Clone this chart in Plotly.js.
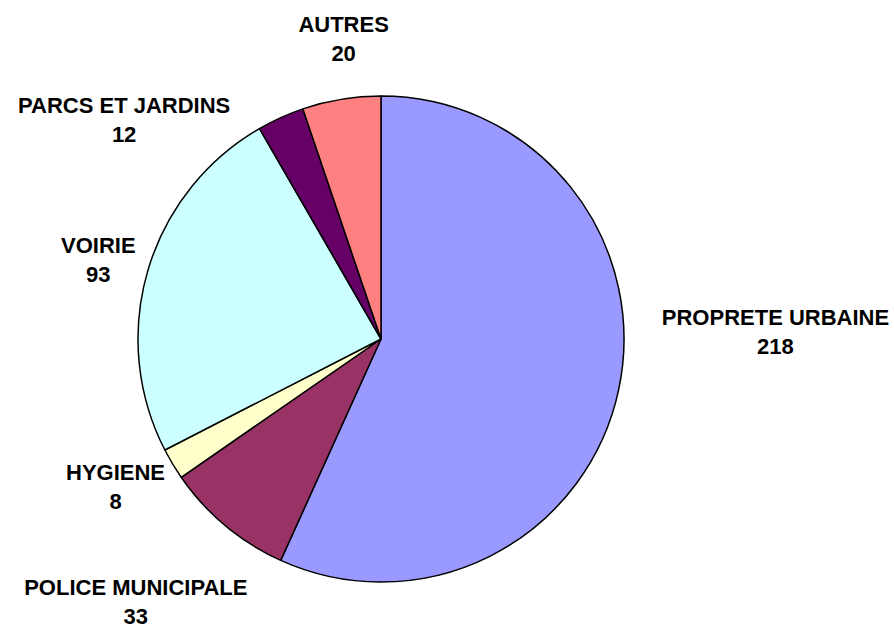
<!DOCTYPE html>
<html>
<head>
<meta charset="utf-8">
<script src="https://cdn.plot.ly/plotly-3.0.1.min.js"></script>
<style>html,body{margin:0;padding:0;background:#fff;}#chart{width:894px;height:629px;}</style>
</head>
<body>
<div id="chart"></div>
<script>
const categories = ["PROPRETE URBAINE", "POLICE MUNICIPALE", "HYGIENE", "VOIRIE", "PARCS ET JARDINS", "AUTRES"];
const values = [218, 33, 8, 93, 12, 20];
const colors = ["#9999FF", "#993366", "#FFFFCC", "#CCFFFF", "#660066", "#FF8080"];

const W = 894, H = 629;
const cx = 381, cy = 339, r = 243;
// label centre positions in pixels (layout only)
const labelPos = [[775, 332], [136, 602], [115, 487], [98, 260], [124, 120], [343, 39]];

const annotations = categories.map((c, i) => ({
  text: c + "<br>" + values[i],
  x: labelPos[i][0] / W,
  y: 1 - labelPos[i][1] / H,
  xref: "paper", yref: "paper",
  xanchor: "center", yanchor: "middle",
  showarrow: false, align: "center",
  font: {family: "Liberation Sans, Arial, sans-serif", size: 22, color: "#000"}
}));

const data = [{
  type: "pie",
  labels: categories,
  values: values,
  sort: false,
  direction: "clockwise",
  rotation: 0,
  textinfo: "none",
  hoverinfo: "label+value",
  marker: {colors: colors, line: {color: "#000", width: 1.5}},
  domain: {x: [(cx - r) / W, (cx + r) / W], y: [(H - cy - r) / H, (H - cy + r) / H]}
}];

const layout = {
  width: W, height: H,
  margin: {l: 0, r: 0, t: 0, b: 0},
  paper_bgcolor: "#fff",
  showlegend: false,
  annotations: annotations
};

Plotly.newPlot("chart", data, layout, {displayModeBar: false, staticPlot: true}).then(() => {
  document.querySelectorAll(".annotation-text").forEach(t => t.style.fontWeight = "bold");
});
</script>
</body>
</html>
